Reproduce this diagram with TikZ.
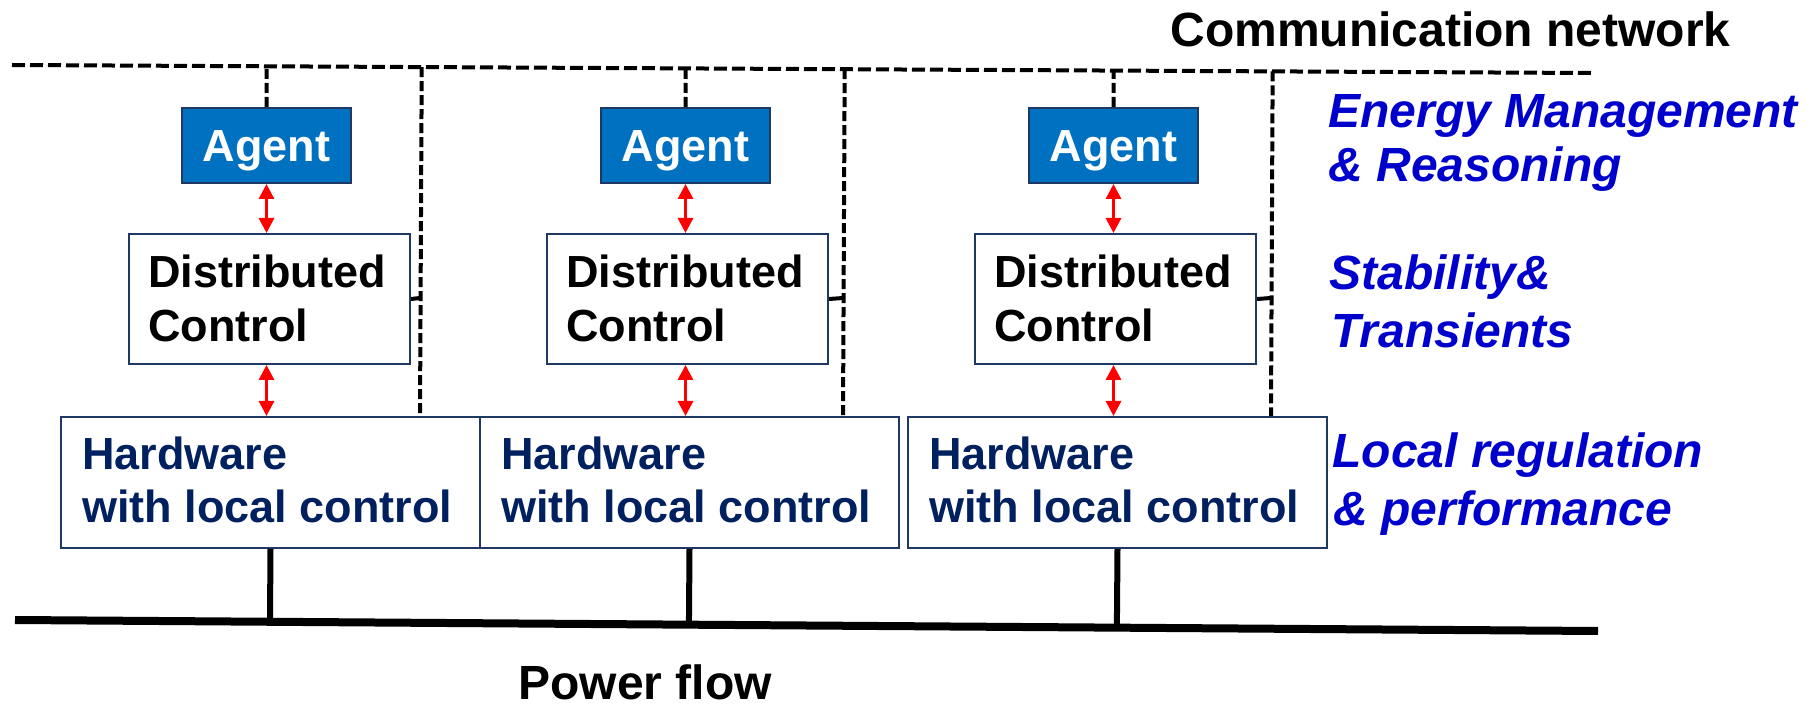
\documentclass[tikz,border=0pt]{standalone}
\usepackage{fontspec}
\setmainfont{Liberation Sans}
\usetikzlibrary{arrows.meta,calc}
\definecolor{agentblue}{HTML}{0070C0}
\definecolor{boxnavy}{HTML}{1F3864}
\definecolor{hwtext}{HTML}{002060}
\definecolor{lblblue}{HTML}{0000CC}
\definecolor{linkred}{HTML}{FF0000}
\begin{document}
\begin{tikzpicture}[x=0.5pt,y=-0.5pt,
  agentbox/.style={draw=boxnavy,line width=1pt,fill=agentblue,minimum width=84.5pt,minimum height=37.5pt,inner sep=0pt},
  dcbox/.style={draw=boxnavy,line width=1pt,fill=white,minimum width=140.5pt,minimum height=65pt,inner sep=0pt,anchor=north west},
  hwbox/.style={draw=boxnavy,line width=1pt,fill=white,minimum width=209.5pt,minimum height=65.5pt,inner sep=0pt,anchor=north west},
  boxtxt/.style={inner sep=0pt,font=\fontsize{22.5}{27}\selectfont\bfseries},
  agenttxt/.style={boxtxt,text=white,anchor=base},
  dctxt/.style={boxtxt,text=black,anchor=base west},
  hwtxt/.style={boxtxt,text=hwtext,anchor=base west},
  lbl/.style={inner sep=0pt,anchor=base west,text=lblblue,font=\fontsize{24}{29}\selectfont\bfseries\itshape},
  title/.style={inner sep=0pt,anchor=base west,text=black,font=\fontsize{24}{29}\selectfont\bfseries},
  netdash/.style={line width=2pt,dash pattern=on 6.5pt off 2.5pt},
  vdash/.style={line width=2pt,dash pattern=on 5pt off 2pt},
  solidlink/.style={line width=2pt},
  redarrow/.style={draw=linkred,line width=1.5pt,{Triangle[width=7.5pt,length=7.5pt]}-{Triangle[width=7.5pt,length=7.5pt]}},
  busline/.style={line width=4pt},
  stemline/.style={line width=3pt}
]
\useasboundingbox (0,0) rectangle (1816,705);

% communication network
\coordinate (netL) at (12,65);
\coordinate (netR) at (1592,73);
\draw[netdash] (netL) -- (netR);
\node[title] (netlbl) at (1170,47) {Communication network};

% power bus
\coordinate (busL) at (15,620);
\coordinate (busR) at (1598,631);

\foreach \i/\ac/\dl/\hl/\dr in {1/266.5/128/60/420, 2/685.5/546/479/843, 3/1113.5/974/907/1271}{
  \node[agentbox] (ag\i) at (\ac,145.5) {};
  \node[agenttxt] (agt\i) at (\ac,162) {Agent};
  \node[dcbox] (dc\i) at (\dl,233) {};
  \node[dctxt] (dca\i) at ({\dl+20},288) {Distributed};
  \node[dctxt] (dcb\i) at ({\dl+20},342) {Control};
  \node[hwbox] (hw\i) at (\hl,416) {};
  \node[hwtxt] (hwa\i) at ({\hl+22},470) {Hardware};
  \node[hwtxt] (hwb\i) at ({\hl+22},523) {with local control};
  % links to network
  \draw[vdash] (ag\i.north) -- ($(netL)!(ag\i.north)!(netR)$);
  \coordinate (tap\i) at (\dr,416);
  \coordinate (dcj\i) at (\dr,298);
  \draw[vdash] ($(netL)!(tap\i)!(netR)$) -- (tap\i);
  \draw[solidlink] (dc\i.east) -- (dcj\i);
  % red arrows
  \draw[redarrow] (ag\i.south) -- (ag\i.south |- dc\i.north);
  \draw[redarrow] (ag\i.south |- dc\i.south) -- (ag\i.south |- hw\i.north);
  % stems to bus
  \draw[stemline] (hw\i.south) -- ($(busL)!(hw\i.south)!(busR)$);
}
\draw[busline] (busL) -- (busR);
\node[title] (powlbl) at (518,699) {Power flow};

% layer labels
\node[lbl] (l1a) at (1328,128) {Energy Management};
\node[lbl] (l1b) at (1328,182) {\& Reasoning};
\node[lbl] (l2a) at (1329,290) {Stability\&};
\node[lbl] (l2b) at (1331,348) {Transients};
\node[lbl] (l3a) at (1332,468) {Local regulation};
\node[lbl] (l3b) at (1333,525) {\& performance};
\end{tikzpicture}
\end{document}
